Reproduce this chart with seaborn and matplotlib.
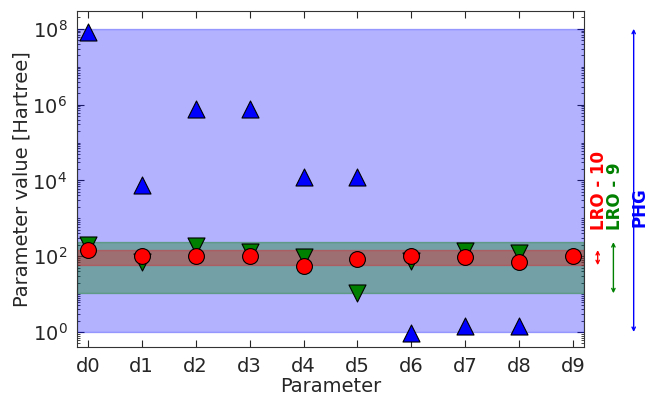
import numpy as np
import pandas as pd
import seaborn as sns
import matplotlib.pyplot as plt
from matplotlib.ticker import FixedLocator, LogLocator, NullFormatter
import matplotlib.transforms as mtransforms

# parameter values
params = ["d0", "d1", "d2", "d3", "d4", "d5", "d6", "d7", "d8", "d9"]
phg = [8e7, 7.4e3, 7.8e5, 7.8e5, 1.2e4, 1.2e4, 0.95, 1.45, 1.45]
lro9 = [200, 70, 190, 127, 94, 11, 74, 135, 120]
lro10 = [150, 100, 100, 100, 55, 83, 100, 95, 70, 100]
yticks = [1e0, 1e2, 1e4, 1e6, 1e8]

# parameter ranges (shaded bands)
phg_range = (1.0, 1e8)
lro9_range = (10.5, 235)
lro10_range = (58, 145)

df_phg = pd.DataFrame({"x": np.arange(len(phg)), "y": phg})
df_lro9 = pd.DataFrame({"x": np.arange(len(lro9)), "y": lro9})
df_lro10 = pd.DataFrame({"x": np.arange(len(lro10)), "y": lro10})

sns.set_style("ticks")
plt.rcParams["font.family"] = ["DejaVu Sans"]
plt.rcParams["font.size"] = 14

fig = plt.figure(figsize=(6.61, 3.98), dpi=100)
ax = fig.add_axes([0.1165, 0.128, 0.767, 0.845])
ax.set_yscale("log")

ax.axhspan(*phg_range, color="blue", alpha=0.3, lw=1, zorder=1)
ax.axhspan(*lro9_range, color="green", alpha=0.35, lw=1, zorder=1)
ax.axhspan(*lro10_range, color="red", alpha=0.3, lw=1, zorder=1)

sns.scatterplot(data=df_phg, x="x", y="y", marker="^", color="blue",
                edgecolor="black", linewidth=0.8, s=150, ax=ax, zorder=3)
sns.scatterplot(data=df_lro9, x="x", y="y", marker="v", color="green",
                edgecolor="black", linewidth=0.8, s=150, ax=ax, zorder=4)
sns.scatterplot(data=df_lro10, x="x", y="y", marker="o", color="red",
                edgecolor="black", linewidth=0.8, s=130, ax=ax, zorder=5)

ax.set_xlim(-0.2, 9.2)
ax.set_ylim(0.4, 3e8)
ax.set_xticks(np.arange(len(params)))
ax.set_xticklabels(params)
ax.yaxis.set_major_locator(FixedLocator(yticks))
ax.yaxis.set_minor_locator(LogLocator(base=10.0, subs=np.arange(1, 10), numticks=20))
ax.yaxis.set_minor_formatter(NullFormatter())
ax.tick_params(which="both", direction="in", top=True, right=True, labelsize=14)
ax.tick_params(which="major", length=5, pad=7)
ax.tick_params(which="minor", length=2.5)
for sp in ax.spines.values():
    sp.set_color("#333333")

ax.set_xlabel("Parameter", fontsize=14, labelpad=1)
ax.set_ylabel("Parameter value [Hartree]", fontsize=14, labelpad=1)

# range arrows and labels to the right of the axes
trans = mtransforms.blended_transform_factory(ax.transAxes, ax.transData)
arrows = [(1.027, lro10_range, "red"),
          (1.058, lro9_range, "green"),
          (1.098, phg_range, "blue")]
for xpos, (lo, hi), col in arrows:
    ax.annotate("", xy=(xpos, hi), xytext=(xpos, lo), xycoords=trans,
                textcoords=trans, annotation_clip=False,
                arrowprops=dict(arrowstyle="<->", color=col, lw=1,
                                shrinkA=0, shrinkB=0, mutation_scale=6))
ax.text(1.029, 500, "LRO - 10", color="red", fontweight="bold", fontsize=12,
        rotation=90, ha="center", va="bottom", transform=trans)
ax.text(1.062, 480, "LRO - 9", color="green", fontweight="bold", fontsize=12,
        rotation=90, ha="center", va="bottom", transform=trans)
ax.text(1.11, 600, "PHG", color="blue", fontweight="bold", fontsize=12,
        rotation=90, ha="center", va="bottom", transform=trans)

fig.savefig("out.png", dpi=100)
